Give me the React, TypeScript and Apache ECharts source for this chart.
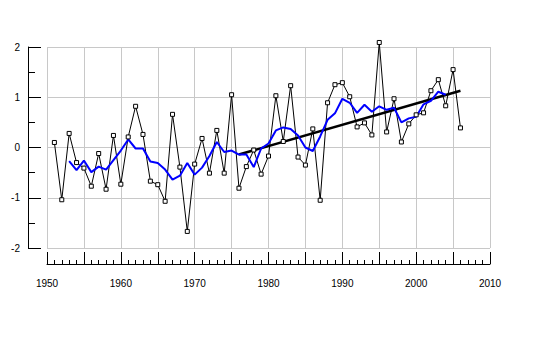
import React, { useEffect, useRef } from "react";
import * as echarts from "echarts";

const years: number[] = [];
for (let y = 1951; y <= 2006; y++) years.push(y);

const annualValues = [
  0.10, -1.04, 0.28, -0.30, -0.41, -0.77, -0.12, -0.83, 0.24, -0.73,
  0.21, 0.82, 0.26, -0.67, -0.74, -1.07, 0.66, -0.39, -1.67, -0.33,
  0.18, -0.51, 0.34, -0.51, 1.05, -0.81, -0.38, -0.05, -0.53, -0.17,
  1.03, 0.12, 1.23, -0.19, -0.35, 0.37, -1.05, 0.89, 1.25, 1.29,
  1.01, 0.41, 0.49, 0.25, 2.09, 0.31, 0.97, 0.11, 0.47, 0.65,
  0.69, 1.13, 1.35, 0.83, 1.55, 0.39,
];

const smoothYears: number[] = [];
for (let y = 1953; y <= 2004; y++) smoothYears.push(y);

const smoothValues = [
  -0.27, -0.45, -0.26, -0.49, -0.38, -0.44, -0.25, -0.06, 0.16, -0.02,
  -0.02, -0.28, -0.31, -0.44, -0.64, -0.56, -0.31, -0.54, -0.40, -0.17,
  0.11, -0.09, -0.06, -0.14, -0.14, -0.39, -0.02, 0.08, 0.34, 0.40,
  0.37, 0.24, 0.00, -0.07, 0.22, 0.55, 0.68, 0.97, 0.89, 0.69,
  0.85, 0.71, 0.82, 0.75, 0.79, 0.50, 0.58, 0.61, 0.86, 0.93,
  1.11, 1.05,
];

const trendYears = [1976, 2006];
const trendValues = [-0.14, 1.13];

const xLabels = [1950, 1960, 1970, 1980, 1990, 2000, 2010];
const yTicks = [-2, -1, 0, 1, 2];

const FONT = "'Liberation Sans', Arial, sans-serif";

export default function App() {
  const ref = useRef<HTMLDivElement>(null);
  useEffect(() => {
    if (!ref.current) return;
    const chart = echarts.init(ref.current, undefined, { renderer: "svg" });
    const annual = years.map((y, i) => [y, annualValues[i]]);
    const smooth = smoothYears.map((y, i) => [y, smoothValues[i]]);
    const trend = trendYears.map((y, i) => [y, trendValues[i]]);
    chart.setOption({
      animation: false,
      backgroundColor: "#ffffff",
      grid: { left: 47, top: 47, width: 443, height: 201, containLabel: false },
      xAxis: {
        type: "value",
        min: 1950,
        max: 2010,
        interval: 5,
        offset: 16,
        axisLine: { show: true, onZero: false, lineStyle: { color: "#000", width: 1 } },
        axisTick: { show: true, inside: true, length: 12, lineStyle: { color: "#000" } },
        minorTick: { show: true, splitNumber: 5, length: 4, lineStyle: { color: "#000" } },
        axisLabel: {
          color: "#000",
          fontFamily: FONT,
          fontSize: 10,
          margin: 14,
          formatter: (v: number) => (xLabels.includes(v) ? String(v) : ""),
        },
        splitLine: { show: true, lineStyle: { color: "#c8c8c8", width: 1 } },
      },
      yAxis: {
        type: "value",
        min: -2,
        max: 2,
        interval: 1,
        offset: 19,
        axisLine: { show: true, onZero: false, lineStyle: { color: "#000", width: 1 } },
        axisTick: { show: true, inside: true, length: 13, lineStyle: { color: "#000" } },
        minorTick: { show: true, splitNumber: 2, length: 7, lineStyle: { color: "#000" } },
        axisLabel: {
          color: "#000",
          fontFamily: FONT,
          fontSize: 10,
          margin: 8,
          formatter: (v: number) => (yTicks.includes(v) ? String(v) : ""),
        },
        splitLine: { show: true, lineStyle: { color: "#c8c8c8", width: 1 } },
      },
      series: [
        {
          type: "line",
          data: annual,
          symbol: "none",
          clip: false,
          lineStyle: { color: "#000", width: 1 },
          z: 2,
        },
        {
          type: "line",
          data: trend,
          symbol: "none",
          clip: false,
          lineStyle: { color: "#000", width: 2.5 },
          z: 3,
        },
        {
          type: "line",
          data: smooth,
          symbol: "none",
          clip: false,
          lineStyle: { color: "#0000ff", width: 2 },
          z: 4,
        },
        {
          type: "scatter",
          data: annual,
          symbol: "rect",
          symbolSize: 4,
          clip: false,
          itemStyle: { color: "#ffffff", borderColor: "#000", borderWidth: 1, opacity: 1 },
          z: 5,
        },
      ],
    });
    return () => chart.dispose();
  }, []);
  return (
    <div
      ref={ref}
      style={{ position: "fixed", left: 0, top: 0, width: 541, height: 342, background: "#fff" }}
    />
  );
}
